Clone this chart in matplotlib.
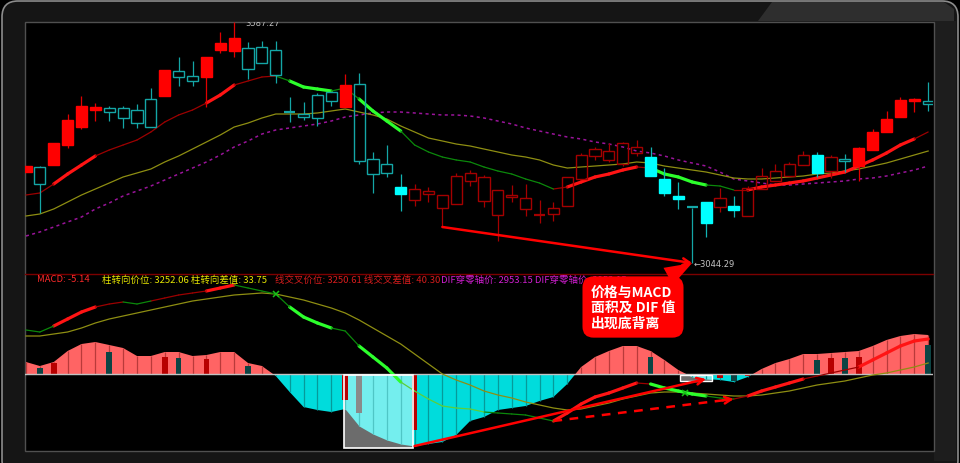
import numpy as np
import matplotlib
matplotlib.use("Agg")
import matplotlib.pyplot as plt
from matplotlib.patches import Rectangle, FancyBboxPatch, Polygon
from matplotlib.collections import LineCollection
import matplotlib.transforms as mtransforms

plt.rcParams['font.family'] = ['Noto Sans CJK SC', 'DejaVu Sans']

# ---------------- data ----------------
opens = [3249.3, 3260.6, 3265.1, 3310.2, 3350.7, 3389.0, 3393.5, 3393.5, 3389.0, 3413.8,
         3420.6, 3476.9, 3465.6, 3463.4, 3524.2, 3521.9, 3528.7, 3530.9, 3524.2, 3384.5,
         3380.0, 3422.8, 3429.6, 3395.8, 3447.6, 3278.6, 3267.3, 3215.5, 3186.2, 3199.8,
         3168.2, 3177.2, 3229.0, 3238.1, 3208.8, 3193.0, 3190.7, 3154.7, 3154.7, 3172.7,
         3233.6, 3285.4, 3296.6, 3267.3, 3292.1, 3283.1, 3233.6, 3195.3, 3170.5, 3181.7,
         3170.5, 3172.7, 3150.2, 3211.0, 3229.0, 3240.3, 3265.1, 3287.6, 3251.6, 3278.6,
         3262.8, 3298.9, 3339.4, 3373.2, 3409.3, 3409.3]
highs = [3262.8, 3262.8, 3314.7, 3380.0, 3420.6, 3404.8, 3398.0, 3398.0, 3402.5, 3438.6,
         3479.1, 3508.4, 3499.4, 3508.4, 3564.7, 3587.27, 3542.2, 3544.5, 3544.5, 3418.3,
         3407.0, 3427.3, 3429.6, 3470.1, 3472.4, 3294.4, 3310.2, 3244.8, 3222.3, 3215.5,
         3197.5, 3247.1, 3253.8, 3242.6, 3208.8, 3220.0, 3222.3, 3186.2, 3181.7, 3238.1,
         3292.1, 3305.6, 3314.7, 3316.9, 3321.4, 3305.6, 3258.3, 3226.8, 3170.5, 3181.7,
         3213.3, 3195.3, 3217.8, 3258.3, 3267.3, 3271.9, 3296.6, 3294.4, 3287.6, 3289.9,
         3305.6, 3346.2, 3386.8, 3418.3, 3416.0, 3452.1]
lows = [3249.3, 3157.0, 3265.1, 3303.4, 3346.2, 3364.2, 3364.2, 3348.5, 3348.5, 3350.7,
        3420.6, 3443.1, 3443.1, 3395.8, 3517.4, 3508.4, 3458.9, 3494.9, 3449.8, 3362.0,
        3366.5, 3353.0, 3398.0, 3395.8, 3267.3, 3202.0, 3238.1, 3161.5, 3172.7, 3181.7,
        3125.4, 3177.2, 3217.8, 3170.5, 3093.9, 3181.7, 3150.2, 3134.4, 3138.9, 3172.7,
        3233.6, 3276.4, 3271.9, 3262.8, 3285.4, 3240.3, 3195.3, 3166.0, 3044.29, 3102.9,
        3159.2, 3147.9, 3150.2, 3211.0, 3229.0, 3240.3, 3265.1, 3238.1, 3235.8, 3249.3,
        3229.0, 3298.9, 3339.4, 3373.2, 3384.5, 3386.8]
closes = [3262.8, 3222.3, 3314.7, 3366.5, 3398.0, 3395.8, 3384.5, 3371.0, 3359.7, 3350.7,
          3479.1, 3463.4, 3454.3, 3508.4, 3540.0, 3551.2, 3481.4, 3494.9, 3467.9, 3382.3,
          3373.2, 3371.0, 3409.3, 3445.3, 3274.1, 3244.8, 3247.1, 3199.8, 3211.0, 3206.5,
          3197.5, 3240.3, 3247.1, 3184.0, 3152.4, 3197.5, 3166.0, 3152.4, 3168.2, 3238.1,
          3287.6, 3301.1, 3276.4, 3314.7, 3305.6, 3240.3, 3202.0, 3188.5, 3168.2, 3134.4,
          3190.7, 3163.7, 3213.3, 3240.3, 3251.6, 3267.3, 3287.6, 3247.1, 3283.1, 3274.1,
          3303.4, 3339.4, 3368.7, 3411.5, 3413.8, 3402.5]
# candle state: R strong-up, C weak-down, D weak, F strong-down
candle_state = list("RCRRRRCCCC" "RCCRRRCCCC" "CCCRCCCFDD" "DDDDDDDDDD"
                    "DDDDDFFFCF" "DFDDDDDFDC" "RRRRRC")

ma5 = [3197.5, 3202.0, 3222.3, 3244.8, 3265.1, 3285.4, 3298.9, 3310.2, 3321.4, 3339.5,
       3362.0, 3377.8, 3389.0, 3404.8, 3422.8, 3445.3, 3454.4, 3463.4, 3465.6, 3454.4,
       3440.8, 3436.3, 3431.8, 3438.6, 3413.8, 3386.8, 3364.2, 3341.7, 3310.2, 3294.4,
       3283.1, 3276.4, 3271.9, 3260.6, 3251.6, 3244.8, 3233.6, 3224.5, 3211.0, 3215.5,
       3226.8, 3238.1, 3244.8, 3253.8, 3260.6, 3258.3, 3244.8, 3238.1, 3226.8, 3220.0,
       3217.8, 3208.8, 3208.8, 3215.5, 3220.0, 3224.5, 3229.1, 3235.8, 3242.6, 3249.3,
       3262.8, 3276.4, 3292.1, 3310.2, 3323.7, 3339.5]
ma5_signal = list("rr" "RRR" "rrrrrrrr" "RR" "rrr" "g" "GGG" "gg" "GGG" "ggggggggggg"
                  "r" "RRRRR" "r" "GGGG" "gg" "r" "RRRRRRRRRRRR" "r")
ma10 = [3150.2, 3154.7, 3166.0, 3181.7, 3197.5, 3211.0, 3224.5, 3238.1, 3247.1, 3256.1,
        3271.9, 3285.4, 3301.1, 3316.9, 3332.7, 3350.7, 3359.7, 3371.0, 3380.0, 3380.0,
        3380.0, 3382.3, 3386.8, 3391.3, 3384.5, 3377.8, 3368.7, 3353.0, 3339.5, 3325.9,
        3319.2, 3312.4, 3307.9, 3301.1, 3294.4, 3287.6, 3283.1, 3276.4, 3265.1, 3258.3,
        3260.6, 3262.8, 3265.1, 3267.4, 3271.9, 3269.6, 3262.8, 3258.3, 3253.8, 3249.3,
        3242.6, 3235.8, 3233.6, 3233.6, 3235.8, 3238.1, 3240.3, 3244.8, 3247.1, 3251.6,
        3256.1, 3262.8, 3269.6, 3278.6, 3287.6, 3296.6]
ma20 = [3105.1, 3114.2, 3125.4, 3136.7, 3147.9, 3166.0, 3179.5, 3195.3, 3206.5, 3217.8,
        3231.3, 3244.8, 3258.3, 3271.9, 3287.6, 3305.7, 3319.2, 3334.9, 3344.0, 3348.5,
        3353.0, 3357.5, 3364.2, 3373.2, 3377.8, 3382.3, 3384.5, 3384.5, 3382.3, 3380.0,
        3377.8, 3377.8, 3375.5, 3371.0, 3364.2, 3357.5, 3348.5, 3341.7, 3334.9, 3328.2,
        3323.7, 3316.9, 3312.4, 3305.7, 3296.6, 3292.1, 3285.4, 3276.4, 3269.6, 3262.8,
        3249.3, 3233.6, 3229.1, 3224.5, 3220.0, 3220.0, 3222.3, 3224.5, 3226.8, 3229.1,
        3233.6, 3235.8, 3240.3, 3247.1, 3253.8, 3262.8]

dif = [22.0, 21.0, 24.0, 27.5, 31.0, 33.5, 35.0, 36.0, 35.0, 36.5,
       38.0, 39.5, 40.5, 41.5, 43.0, 44.5, 43.0, 41.5, 40.0, 33.5,
       28.5, 25.5, 23.0, 21.5, 14.0, 8.5, 3.0, -4.0, -8.5, -12.5,
       -16.0, -17.0, -17.5, -19.0, -19.5, -20.0, -20.5, -22.0, -23.5, -19.5,
       -15.0, -11.5, -9.5, -7.0, -4.5, -5.0, -7.0, -8.5, -10.0, -11.0,
       -12.0, -12.5, -11.0, -8.5, -6.5, -4.5, -2.5, -1.0, 0.5, 2.0,
       3.5, 7.0, 10.5, 14.0, 16.5, 17.5]
dif_signal = list("gg" "RRR" "rr" "gg" "rrrr" "RR" "gggg" "GGG" "gg" "GGG" "llllll" "ggggg"
                  "RRRRRR" "r" "GGGG" "gg" "r" "RRRR" "rrrr" "RRRRR")
dea = [19.0, 19.0, 20.0, 21.0, 23.0, 25.5, 27.5, 29.0, 30.5, 32.0,
       33.5, 35.0, 36.5, 37.5, 38.5, 39.5, 40.0, 40.5, 40.0, 38.5,
       37.0, 35.0, 33.0, 30.5, 27.0, 23.0, 19.0, 15.0, 10.0, 5.0,
       0.0, -3.0, -5.5, -8.5, -10.5, -12.0, -14.0, -15.5, -17.0, -18.0,
       -17.5, -16.0, -14.5, -12.5, -11.0, -9.5, -9.0, -9.0, -9.5, -10.0,
       -10.5, -11.0, -11.0, -10.5, -9.5, -8.5, -7.0, -5.5, -4.5, -3.5,
       -2.0, -0.5, 0.5, 2.0, 3.5, 5.5]
macd_hist = [6.0, 4.0, 6.0, 11.5, 15.0, 16.0, 14.5, 13.0, 9.0, 9.0,
             11.0, 11.0, 9.0, 9.5, 11.0, 11.0, 5.5, 4.0, -1.0, -9.0,
             -16.5, -18.0, -19.0, -17.5, -26.0, -30.0, -33.0, -35.0, -36.0, -35.0,
             -34.0, -30.5, -23.5, -21.5, -18.0, -17.0, -16.0, -13.5, -11.5, -5.0,
             3.5, 8.5, 11.5, 14.0, 14.0, 11.5, 7.0, 2.0, -1.5, -2.5,
             -3.0, -4.0, -1.5, 2.5, 5.5, 7.5, 10.0, 10.0, 10.5, 11.0,
             11.5, 14.0, 17.0, 19.0, 20.0, 19.5]
# secondary small bars in the MACD panel
sub_idx = [1, 2, 6, 10, 11, 13, 16, 23, 24, 28, 45, 50, 51, 52, 57, 58, 59, 60, 65]
sub_val = [3, 5.5, 11, 8.5, 8, 7.5, 4, -13, -19.5, -28, 8.5, -2, -3.5, -1, 7, 8, 8, 8.5, 14.5]
sub_kind = ['T', 'M', 'T', 'M', 'T', 'M', 'T', 'M', 'S', 'M', 'T', 'M', 'T', 'M', 'T', 'M', 'T', 'M', 'T']

area_main = (23, 28)       # highlighted MACD area (bar indices)
area_small = (47.1, 49.4)

macd_labels = [("MACD: -5.14", '#ff2a2a'),
               ("柱转向价位: 3252.06 柱转向差值: 33.75", '#e6e600'),
               ("线交叉价位: 3250.61 线交叉差值: 40.30", '#d61c1c'),
               ("DIF穿零轴价: 2953.15 DIF穿零轴价: 2953.15", '#d21ed2')]
callout_text = "价格与MACD\n面积及 DIF 值\n出现底背离"

# ---------------- figure ----------------
n = len(opens)
idx = np.arange(n)
W, H = 960, 464
fig = plt.figure(figsize=(W / 100, H / 100), dpi=100, facecolor='#000000')

bg = fig.add_axes([0, 0, 1, 1], zorder=0)
bg.set_xlim(0, W)
bg.set_ylim(H, 0)
bg.axis('off')
bg.add_patch(FancyBboxPatch((2, 2), 956, 475, boxstyle='round,pad=0,rounding_size=16',
                            fc='#151515', ec='#8c8c8c', lw=1.2))
bg.add_patch(Polygon([(772, 3), (944, 3), (954, 10), (954, 22), (758, 22)], closed=True,
                     fc='#2e2e2e', ec='none'))
bg.add_patch(Rectangle((933.5, 22), 22, 440, fc='#1d1d1d', ec='none'))
bg.add_patch(Rectangle((24.5, 22.5), 909, 429, fc='#000000', ec='#505050', lw=1.0))

XL = (-0.07, 65.35)

# ---------- price panel ----------
axp = fig.add_axes([25 / W, (H - 275) / H, 908 / W, 252 / H], zorder=3)
axp.set_facecolor('none')
axp.set_xlim(*XL)
axp.set_ylim(3019.5, 3587.3)
axp.set_xticks([]); axp.set_yticks([])
for s in axp.spines.values():
    s.set_visible(False)

seg_style = {'R': dict(color='#ff1414', lw=2.3),
             'r': dict(color='#9c0000', lw=0.9),
             'G': dict(color='#2cff2c', lw=2.3),
             'g': dict(color='#0b880b', lw=0.9),
             'l': dict(color='#5ccf3a', lw=0.9)}


def colored_line(ax, xs, ys, signal, z):
    pts = np.column_stack([xs, ys])
    for code, st in seg_style.items():
        segs = [pts[i:i + 2] for i in range(len(signal)) if signal[i] == code]
        if segs:
            ax.add_collection(LineCollection(segs, colors=st['color'], linewidths=st['lw'],
                                             capstyle='round', zorder=z))


axp.plot(idx, ma20, color='#9a149a', lw=1.1, ls=(0, (2.0, 2.2)), zorder=2)
axp.plot(idx, ma10, color='#8e8e12', lw=0.9, zorder=2)
colored_line(axp, idx, ma5, ma5_signal, 2.5)

cstyle = {'R': ('#ff0000', '#ff0000', '#e00000'),
          'C': ('none', '#14a6a6', '#14a6a6'),
          'D': ('none', '#a40000', '#a40000'),
          'F': ('#00ffff', '#00ffff', '#12b4b4')}
bw = 0.8
for i in range(n):
    o, h, l, c = opens[i], highs[i], lows[i], closes[i]
    face, edge, wick = cstyle[candle_state[i]]
    top, bot = max(o, c), min(o, c)
    axp.vlines(i, top, h, color=wick, lw=0.9, zorder=3)
    axp.vlines(i, l, bot, color=wick, lw=0.9, zorder=3)
    if top - bot < 3:
        axp.hlines((top + bot) / 2, i - bw / 2, i + bw / 2,
                   color=edge, lw=1.6, zorder=3)
    else:
        axp.add_patch(Rectangle((i - bw / 2, bot), bw, top - bot, fc=face, ec=edge,
                                lw=1.0, zorder=3))

i_hi = int(np.argmax(highs))
i_lo = int(np.argmin(lows))
off = mtransforms.offset_copy(axp.transData, fig=fig, x=8, y=0, units='points')
axp.text(i_hi, highs[i_hi], f"{highs[i_hi]:.2f}", transform=off, ha='left', va='center',
         color='#bdbdbd', fontsize=6, family='DejaVu Sans', clip_on=True, zorder=6)
axp.annotate(f"←{lows[i_lo]:.2f}", xy=(i_lo, lows[i_lo]), xytext=(1, -0.5),
             textcoords='offset points', ha='left', va='center', color='#c4c4c4',
             fontsize=6, family='DejaVu Sans', annotation_clip=False, zorder=6)

# price divergence arrow (from earlier low to lowest low)
i_prev = 30
axp.annotate('', xy=(i_lo, lows[i_lo]), xytext=(i_prev, lows[i_prev]),
             arrowprops=dict(arrowstyle='->', color='#ff0000', lw=1.8, shrinkA=0, shrinkB=0,
                             mutation_scale=12), annotation_clip=False, zorder=7)

# call-out bubble
axp.annotate(callout_text, xy=(i_lo, lows[i_lo]), xytext=(633, H - 308),
             textcoords='figure pixels', ha='center', va='center', color='white',
             fontsize=10, fontweight='bold', linespacing=1.12, multialignment='left',
             family=['Noto Sans CJK SC', 'DejaVu Sans'],
             bbox=dict(boxstyle='round,pad=0.6,rounding_size=0.8', fc='#ff0000', ec='none'),
             arrowprops=dict(arrowstyle='wedge,tail_width=1.4,shrink_factor=0.5',
                             fc='#ff0000', ec='none', relpos=(0.74, 1.0),
                             shrinkA=0, shrinkB=0),
             annotation_clip=False, zorder=20)

# ---------- MACD panel ----------
axm = fig.add_axes([25 / W, (H - 451) / H, 908 / W, 176 / H], zorder=2)
axm.set_facecolor('none')
axm.set_xlim(*XL)
axm.set_ylim(-38, 50)
axm.set_xticks([]); axm.set_yticks([])
for k, s in axm.spines.items():
    s.set_visible(k == 'top')
axm.spines['top'].set_color('#7c0000')
axm.spines['top'].set_linewidth(1.0)

hv = np.array(macd_hist)
axm.fill_between(idx, 0, hv, where=hv >= 0, interpolate=True, color='#ff6464', lw=0, zorder=1)
axm.fill_between(idx, 0, hv, where=hv <= 0, interpolate=True, color='#00dcdc', lw=0, zorder=1)


def highlight(x0, x1, lw):
    xb = np.linspace(x0, x1, 60)
    hb = np.interp(xb, idx, hv)
    depth = min(hb.min(), 0) - 1.0
    axm.add_patch(Rectangle((x0, depth), x1 - x0, -depth - 0.5, fc='#6c6c6c', ec='none', zorder=1.5))
    axm.fill_between(xb, 0, np.minimum(hb, 0), color='#74eeee', lw=0, zorder=1.6)
    axm.add_patch(Rectangle((x0, depth), x1 - x0, -depth - 0.5, fc='none', ec='white',
                            lw=lw, zorder=5))


highlight(area_main[0] - 0.1, area_main[1] - 0.1, 1.2)
highlight(area_small[0], area_small[1], 1.0)

for i in idx:
    inside = area_main[0] - 0.1 <= i <= area_main[1] - 0.1
    col = '#b93a3a' if hv[i] > 0 else ('#4fc6c6' if inside else '#069a9a')
    axm.vlines(i, 0, hv[i], color=col, lw=0.9, zorder=2)

sub_col = {'T': '#0c4444', 'M': '#b80000', 'S': '#8a8a8a'}
for i, v, kd in zip(sub_idx, sub_val, sub_kind):
    axm.add_patch(Rectangle((i - 0.2, 0), 0.4, v, fc=sub_col[kd], ec='none', zorder=3))

axm.axhline(0, color='#c2c2c2', lw=1.0, zorder=3.5)

axm.plot(idx, dea, color='#8e8e12', lw=0.9, zorder=4)
colored_line(axm, idx, dif, dif_signal, 4.5)

# death-cross markers
dd = np.array(dif) - np.array(dea)
for i in range(n - 1):
    if dd[i] >= 0 and dd[i + 1] < 0:
        t = dd[i] / (dd[i] - dd[i + 1])
        xc = i + t
        yc = dea[i] + t * (dea[i + 1] - dea[i])
        axm.plot(xc, yc, marker='x', color='#18c018', ms=4.5, mew=1.1, zorder=6)

# divergence arrows in MACD panel
axm.annotate('', xy=(49, macd_hist[49]), xytext=(area_main[1], macd_hist[area_main[1]]),
             arrowprops=dict(arrowstyle='->', color='#ff0000', lw=1.8, shrinkA=0, shrinkB=0,
                             mutation_scale=12), annotation_clip=False, zorder=7)
d0, d1 = 38, 51
axm.plot([d0, d1 - 0.5], [dif[d0], dif[d0] + (dif[d1] - dif[d0]) * (d1 - 0.5 - d0) / (d1 - d0)],
         color='#ff0000', lw=1.8, ls=(0, (3.5, 3)), zorder=7)
axm.annotate('', xy=(d1, dif[d1]), xytext=(d1 - 0.8, dif[d1] - (dif[d1] - dif[d0]) * 0.8 / (d1 - d0)),
             arrowprops=dict(arrowstyle='->', color='#ff0000', lw=1.8, shrinkA=0, shrinkB=0,
                             mutation_scale=12), annotation_clip=False, zorder=7)

# indicator text line
label_x = [37, 102, 275, 441]
for (txt, col), px in zip(macd_labels, label_x):
    axm.text((px - 25) / 908, (451 - 280) / 176, txt, transform=axm.transAxes,
             color=col, fontsize=6.8, ha='left', va='center', zorder=8, clip_on=True)

fig.savefig('out.png', dpi=100, facecolor=fig.get_facecolor())
